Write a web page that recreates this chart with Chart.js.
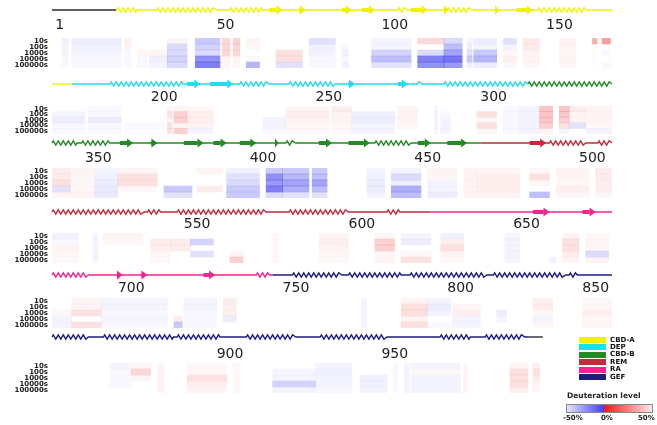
<!DOCTYPE html>
<html>
<head>
<meta charset="utf-8">
<script src="https://cdn.jsdelivr.net/npm/chart.js@4.4.0/dist/chart.umd.min.js"></script>
<style>
  body { margin: 0; background: #fff; width: 657px; height: 425px; overflow: hidden; position: relative; font-family: "DejaVu Sans", sans-serif; }
  canvas { position: absolute; left: 0; }
  .sw { position: absolute; left: 579px; width: 27px; height: 6px; }
  .lab { position: absolute; left: 610px; font-size: 7px; line-height: 7px; font-weight: bold; color: #111; }
  .cb { position: absolute; font-size: 7px; font-weight: bold; color: #222; }
</style>
</head>
<body>
<script>
// ---- data ----
const timepoints = ['10s', '100s', '1000s', '10000s', '100000s'];
const tickResidues = [1, 50, 100, 150, 200, 250, 300, 350, 400, 450, 500, 550, 600, 650, 700, 750, 800, 850, 900, 950];

// domains along the sequence
const domainNames = ['linker', 'CBD-A', 'DEP', 'CBD-B', 'REM', 'RA', 'GEF', 'linker'];
const domainStart = [0, 19.5, 176, 314.5, 470, 625, 747, 995];
const domainEnd = [19.5, 176, 314.5, 470, 625, 747, 995, 999];

// secondary structure
const helixStart = [19.7, 31.8, 54, 105, 120, 147.5, 187.6, 227, 242, 281, 289, 349, 411, 438, 491, 505.7, 539, 548, 582, 611.7, 680, 742, 753, 770, 788.7, 814, 837, 850, 865.6, 888, 909, 931.4, 967.8, 981.5];
const helixEnd = [25.8, 50, 64, 108, 127.5, 162.5, 209.8, 236, 256, 282.5, 347.6, 357.6, 414, 449, 502, 538, 543, 575, 600, 615.6, 691, 746, 768, 786, 812, 836, 839.5, 861, 886.9, 901, 924, 951.7, 977, 993.6];
const strandStart = [66, 75, 88, 94, 109, 119, 134.5, 141, 211, 218, 260, 275, 360.6, 370, 380, 389, 397, 407.7, 421, 430, 451, 460, 485, 656, 671, 699.7, 707, 726];
const strandEnd = [70, 77, 91, 98, 114, 120.5, 136, 146, 215, 225, 262, 278, 364.6, 372, 386, 393, 402, 408.8, 425, 436.5, 455, 466, 490, 661, 675, 701.5, 709, 729.5];

// peptides and deuteration difference (%) per time point
const pepStart = [3, 6, 22, 26, 29.5, 35, 43.5, 51.6, 55, 59, 68, 78, 88, 97, 111, 119, 126, 128, 137, 143, 154, 164, 167,
  170, 181, 187, 192, 205, 207, 211, 234, 241, 255, 261, 275, 286, 288, 299, 307, 312, 318, 324, 327, 332,
  340, 345.5, 353, 360, 374, 384, 393, 405, 410, 419, 435.6, 443, 454, 465, 469, 485, 493, 505,
  510, 522.5, 525.5, 540, 546, 552, 564, 577, 591, 608, 616, 628, 647.5, 661, 665, 672,
  680, 686, 695, 717, 720, 732, 774, 786, 794, 801.5, 815, 826, 841,
  867.6, 874, 882, 891, 905, 917, 930, 943.5, 953.6, 957, 959, 975, 989, 996];
const pepEnd = [5, 21, 24, 29, 35, 41, 51, 54, 57, 63, 76, 86, 90, 109, 119, 124.5, 127.5, 135, 141, 148, 159, 165.5, 169.5,
  180, 186.7, 191, 204, 206.5, 211, 219, 241, 254, 261, 274, 281, 287, 291, 305, 312, 318, 322, 327, 332, 340,
  345.5, 353, 360, 372, 382.5, 391.6, 403, 410, 418, 423.5, 441, 452, 463, 469, 482, 491, 503, 510,
  518, 524, 537.6, 546, 552, 559, 568, 579, 600, 614, 625, 635, 652, 663, 670, 679,
  686, 695, 715, 719.5, 730, 736, 775.5, 794, 801, 810, 818, 832, 850,
  873.7, 880, 884, 903, 907, 930, 941, 951.7, 955, 958.5, 974, 976, 994.5, 998];
const d10 = [-4, -5, 4, 0, 0, 3, -15, 10, 12, 3, 0, -8, 0, -3, 10, -10, -3, -5, -8, 6, 3, 20, 25,
  0, -2, -2, 0, 3, 3, 2, 0, 3, 5, 0, 3, -3, 0, 0, -2, -3, 15, 15, 5, 3,
  5, 3, -3, 3, 0, 3, -4, -15, -15, -15, -3, -3, 3, 3, 3, 2, 3, 5,
  -4, -3, 3, 0, 0, 0, 0, 2, 3, 2, -3, -4, -3, 0, 3, 2,
  0, 3, -3, 0, -3, 5, -3, 3, -3, 0, 0, 4, 2,
  -3, 3, 3, 2, 2, 0, -3, 0, -2, -3, -3, 3, 3, 4];
const d100 = [-3, -4, 3, 0, 0, -10, -12, 10, 10, 2, 0, -4, -2, -3, 0, -18, -5, -3, -3, 5, 3, 1, 0,
  -3, -2, -2, 0, 8, 12, 4, 0, 5, 3, -4, 3, -3, -2, 8, -2, -3, 15, 15, 3, 3,
  5, 2, -4, 8, 0, 0, -8, -30, -20, -18, -4, -10, 2, 3, 4, 8, 3, 5,
  -2, -3, 2, 5, 5, -12, 0, 2, 4, 12, -5, 4, -3, 0, 8, 3,
  0, 3, -3, 0, -3, 4, -3, 8, -5, 3, 0, 5, 2,
  -2, 10, 3, 2, 2, -3, -4, 0, -2, -3, 2, 3, 8, 8];
const d1000 = [-3, -3, -2, 3, 3, -10, -10, 10, 10, 0, 8, -3, -4, -12, -10, -25, -8, -15, 2, 3, 2, 1, -2,
  -5, -5, -5, 0, 3, 12, 4, -3, 3, 3, -5, 3, -3, -3, 2, -2, -3, 15, 12, 3, 3,
  8, 2, -5, 8, 0, 0, -10, -28, -25, -25, -5, -5, -3, 3, 4, 2, 2, 4,
  3, -3, 0, 4, 5, 0, 0, 2, 3, 12, 0, 8, -3, 0, 8, 2,
  2, 8, -2, 0, -2, 4, -3, 8, -3, 4, -5, 2, 4,
  -2, 3, 3, 8, 2, -3, -3, -4, -2, -3, -3, 3, 8, 5];
const d10000 = [-2, -2, -2, -2, -4, -12, -30, 3, 3, 2, 8, -2, -2, -18, -35, -38, -15, -20, 4, 3, 3, 1, 0,
  -2, -2, -2, -2, 8, 3, 3, -3, 2, 2, -3, 2, -3, -3, 8, -2, -3, 12, 8, -8, 2,
  -8, 2, -6, 2, -15, 5, -15, -35, -22, -18, -5, -22, -3, 3, 4, 0, 4, 4,
  2, -3, 0, 2, 0, -8, 3, 2, 2, 2, 2, 3, -3, 0, 5, -10,
  -3, 0, -3, 5, -2, -5, -3, 3, 0, -3, -3, -3, 2,
  -2, 0, 3, 4, 2, -12, -3, -4, -2, -3, -3, 3, 8, 3];
const d100000 = [-2, -2, -2, -2, -3, -10, -35, 2, 2, -20, -8, -2, -4, -8, -30, -28, -5, -5, -2, 2, 2, 1, -2,
  -2, -2, -2, -1, 8, 12, -3, -2, 2, 2, -3, 0, -3, -3, 2, -2, -3, 3, -3, 0, -3,
  3, 3, -6, 0, -8, 0, -15, -10, -8, -8, -3, -18, -5, 3, 3, -18, 2, 2,
  2, -3, 0, 2, 0, 0, 12, 2, 2, 3, 8, 2, -3, -3, 3, 3,
  -3, 8, -2, -15, -2, 0, -3, 8, -2, -3, 0, 2, 3,
  0, 0, 3, 3, 2, -3, -2, -3, -2, -3, -3, 3, 4, 2];
const series = [d10, d100, d1000, d10000, d100000];

// legend
const legendNames = ['CBD-A', 'DEP', 'CBD-B', 'REM', 'RA', 'GEF'];

// ---- styles & layout ----
const domainColors = {
  'linker': '#2a2a2a', 'CBD-A': '#f2f200', 'DEP': '#22dcee', 'CBD-B': '#238b23',
  'REM': '#c42a3c', 'RA': '#f52590', 'GEF': '#1c1c80'
};
const resPerRow = 170;
const rowLayout = [
  { track: 10, label: 25, top: 38, bottom: 68 },
  { track: 84, label: 97, top: 106, bottom: 134 },
  { track: 143, label: 158, top: 168, bottom: 198 },
  { track: 212, label: 224, top: 233, bottom: 263 },
  { track: 275, label: 288, top: 298, bottom: 328 },
  { track: 337, label: 354, top: 363, bottom: 393 }
];

function heatColor(v) {
  const a = Math.min(1, Math.abs(v) / 58);
  return v < 0 ? `rgba(45,45,235,${a})` : `rgba(235,35,35,${a})`;
}

function domainAt(res) {
  for (let d = 0; d < domainNames.length; d++) {
    if (res >= domainStart[d] && res <= domainEnd[d]) return domainNames[d];
  }
  return 'linker';
}

// secondary structure track drawn with the chart's x scale
const trackPlugin = {
  id: 'track',
  afterDraw(chart, args, opts) {
    const x = chart.scales.x, ctx = chart.ctx, y0 = opts.y;
    const lo = x.min, hi = x.max;
    const P = 5, amp = 2.2;
    ctx.save();
    ctx.lineWidth = 1.4;
    ctx.lineJoin = 'miter';
    domainNames.forEach((name, d) => {
      const a = Math.max(domainStart[d], lo), b = Math.min(domainEnd[d], hi);
      if (b <= a) return;
      ctx.strokeStyle = domainColors[name];
      ctx.beginPath();
      ctx.moveTo(x.getPixelForValue(a), y0);
      helixStart.forEach((hs, i) => {
        const ha = Math.max(hs, a), hb = Math.min(helixEnd[i], b);
        if (hb <= ha) return;
        const pa = x.getPixelForValue(ha), pb = x.getPixelForValue(hb);
        ctx.lineTo(pa, y0);
        let n = 0;
        for (let px = pa + P / 4; px < pb - P / 4; px += P / 2) {
          ctx.lineTo(px, n % 2 === 0 ? y0 - amp : y0 + amp);
          n++;
        }
        ctx.lineTo(pb, y0);
      });
      ctx.lineTo(x.getPixelForValue(b), y0);
      ctx.stroke();
    });
    strandStart.forEach((s, i) => {
      const e = strandEnd[i];
      if (e <= lo || s >= hi) return;
      const ps = x.getPixelForValue(Math.max(s, lo)), pe = x.getPixelForValue(Math.min(e, hi));
      const head = Math.min(6, pe - ps);
      ctx.fillStyle = domainColors[domainAt((s + e) / 2)];
      ctx.fillRect(ps, y0 - 2, pe - head - ps, 4);
      ctx.beginPath();
      ctx.moveTo(pe - head, y0 - 4.5);
      ctx.lineTo(pe, y0);
      ctx.lineTo(pe - head, y0 + 4.5);
      ctx.closePath();
      ctx.fill();
    });
    ctx.restore();
  }
};

rowLayout.forEach((L, r) => {
  const lo = r * resPerRow, hi = lo + resPerRow;
  const canvasTop = L.track - 9;
  const h = L.bottom - canvasTop + 3;
  const canvas = document.createElement('canvas');
  canvas.width = 657;
  canvas.height = h;
  canvas.style.top = canvasTop + 'px';
  document.body.appendChild(canvas);

  const idx = [];
  pepStart.forEach((s, j) => { if (pepEnd[j] > lo && s < hi) idx.push(j); });

  const datasets = timepoints.map((t, k) => ({
    data: idx.map(j => ({ x: [Math.max(pepStart[j], lo), Math.min(pepEnd[j], hi)], y: t, v: series[k][j] })),
    backgroundColor: ctx => heatColor(ctx.raw ? ctx.raw.v : 0),
    borderWidth: 0,
    grouped: false,
    barPercentage: 1,
    categoryPercentage: 1
  }));

  new Chart(canvas.getContext('2d'), {
    type: 'bar',
    data: { labels: timepoints, datasets: datasets },
    options: {
      indexAxis: 'y',
      responsive: false,
      animation: false,
      layout: { padding: { left: 0, right: 45, top: 0, bottom: 3 } },
      plugins: {
        legend: { display: false },
        tooltip: { enabled: false },
        track: { y: 9 }
      },
      scales: {
        x: {
          type: 'linear',
          position: 'top',
          min: lo,
          max: hi,
          grid: { display: false, drawTicks: false },
          border: { display: false },
          afterBuildTicks: scale => {
            scale.ticks = tickResidues
              .filter(v => v > lo && v <= hi)
              .map(v => ({ value: Math.min(v, hi - 9), res: v }));
          },
          ticks: {
            autoSkip: false,
            maxRotation: 0,
            align: 'start',
            padding: L.top - L.label - 8.4,
            color: '#222',
            font: { family: "'DejaVu Sans', sans-serif", size: 14 },
            callback: (value, index, ticks) => String(ticks[index].res)
          },
          afterFit: scale => {
            scale.height = L.top - canvasTop;
            scale.paddingLeft = 0;
            scale.paddingRight = 0;
          }
        },
        y: {
          grid: { display: false, drawTicks: false },
          border: { display: false },
          ticks: {
            autoSkip: false,
            padding: 4,
            color: '#222',
            font: { family: "'DejaVu Sans', sans-serif", size: 7, weight: 'bold' }
          },
          afterFit: scale => {
            scale.width = 52;
            scale.paddingTop = 0;
            scale.paddingBottom = 0;
          }
        }
      }
    },
    plugins: [trackPlugin]
  });
});

// ---- legend ----
legendNames.forEach((name, i) => {
  const top = 337 + i * 7.4;
  const sw = document.createElement('div');
  sw.className = 'sw';
  sw.style.top = top + 'px';
  sw.style.background = domainColors[name];
  document.body.appendChild(sw);
  const lab = document.createElement('div');
  lab.className = 'lab';
  lab.style.top = (top - 0.5) + 'px';
  lab.textContent = name;
  document.body.appendChild(lab);
});

const title = document.createElement('div');
title.className = 'cb';
title.style.cssText = 'left:567px;top:391px;font-size:7.5px;';
title.textContent = 'Deuteration level';
document.body.appendChild(title);

const bar = document.createElement('div');
bar.style.cssText = 'position:absolute;left:566px;top:404px;width:85px;height:7px;border:1px solid #888;' +
  'background:linear-gradient(to right,#e4e4ff 0%,#3c3cff 44%,#ff1414 44%,#ffeaea 100%);';
document.body.appendChild(bar);

[['-50%', 563], ['0%', 601], ['50%', 638]].forEach(([t, left]) => {
  const d = document.createElement('div');
  d.className = 'cb';
  d.style.left = left + 'px';
  d.style.top = '414px';
  d.textContent = t;
  document.body.appendChild(d);
});
</script>
</body>
</html>
